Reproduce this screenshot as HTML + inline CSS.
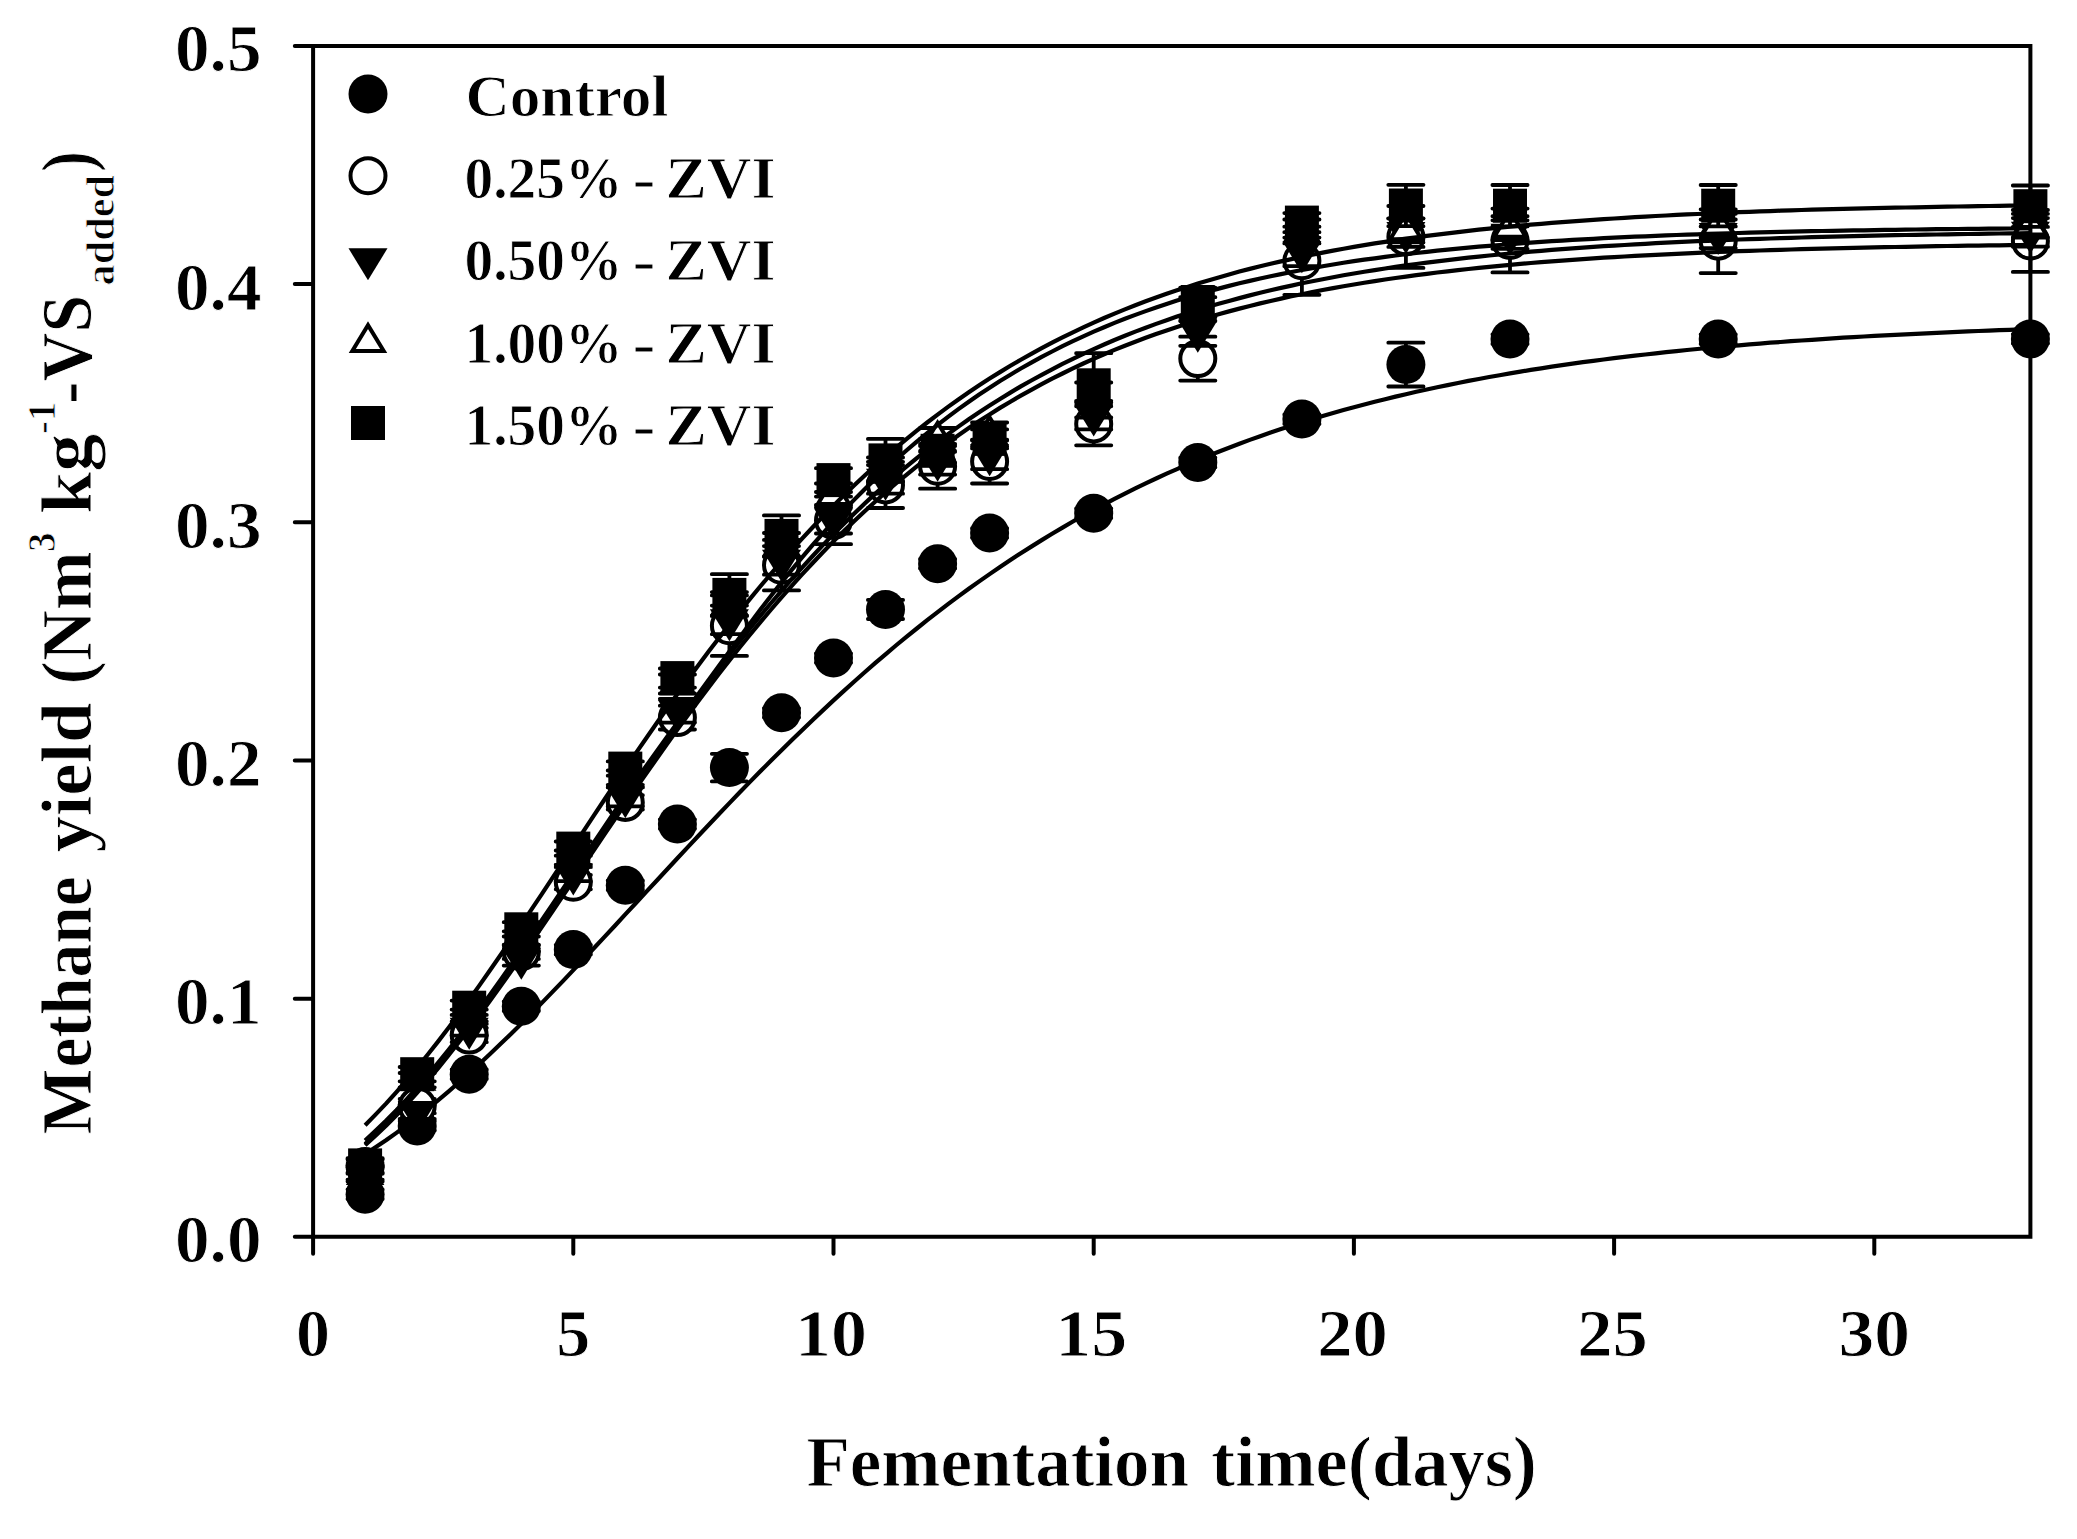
<!DOCTYPE html>
<html><head><meta charset="utf-8"><title>Methane yield</title><style>html,body{margin:0;padding:0;background:#fff}svg{display:block}</style></head><body>
<svg width="2077" height="1539" viewBox="0 0 2077 1539" font-family="'Liberation Serif', serif" font-weight="bold" fill="#000"><style>text{stroke:#fff;stroke-width:0.9px}</style><rect width="2077" height="1539" fill="#fff"/>
<path d="M365.1 1189.5V1199M347.5 1189.5H382.7M347.5 1199H382.7M417.2 1121.1V1130.6M399.6 1121.1H434.8M399.6 1130.6H434.8M469.2 1069.4V1078.9M451.6 1069.4H486.8M451.6 1078.9H486.8M521.3 1001.5V1011M503.7 1001.5H538.9M503.7 1011H538.9M573.3 944.8V954.4M555.7 944.8H590.9M555.7 954.4H590.9M625.3 880.5V890M607.7 880.5H642.9M607.7 890H642.9M677.4 819.3V828.8M659.8 819.3H695M659.8 828.8H695M729.4 753.8V781.4M711.8 753.8H747M711.8 781.4H747M781.5 708.1V717.6M763.9 708.1H799.1M763.9 717.6H799.1M833.5 653.3V662.8M815.9 653.3H851.1M815.9 662.8H851.1M885.5 599.9V619M867.9 599.9H903.1M867.9 619H903.1M937.6 559V568.5M920 559H955.2M920 568.5H955.2M989.6 528.2V537.8M972 528.2H1007.2M972 537.8H1007.2M1093.7 508.5V518M1076.1 508.5H1111.3M1076.1 518H1111.3M1197.8 457.7V467.3M1180.2 457.7H1215.4M1180.2 467.3H1215.4M1301.9 414.4V423.9M1284.3 414.4H1319.5M1284.3 423.9H1319.5M1405.9 342.7V386.5M1388.3 342.7H1423.5M1388.3 386.5H1423.5M1510 334.3V343.9M1492.4 334.3H1527.6M1492.4 343.9H1527.6M1718.2 334.3V343.9M1700.6 334.3H1735.8M1700.6 343.9H1735.8M2030.4 334.1V343.6M2012.8 334.1H2048M2012.8 343.6H2048" fill="none" stroke="#000" stroke-width="3.8" stroke-linecap="round"/>
<circle cx="365.1" cy="1194.2" r="19.5" fill="#000"/>
<circle cx="417.2" cy="1125.9" r="19.5" fill="#000"/>
<circle cx="469.2" cy="1074.2" r="19.5" fill="#000"/>
<circle cx="521.3" cy="1006.3" r="19.5" fill="#000"/>
<circle cx="573.3" cy="949.6" r="19.5" fill="#000"/>
<circle cx="625.3" cy="885.3" r="19.5" fill="#000"/>
<circle cx="677.4" cy="824.1" r="19.5" fill="#000"/>
<circle cx="729.4" cy="767.6" r="19.5" fill="#000"/>
<circle cx="781.5" cy="712.8" r="19.5" fill="#000"/>
<circle cx="833.5" cy="658" r="19.5" fill="#000"/>
<circle cx="885.5" cy="609.5" r="19.5" fill="#000"/>
<circle cx="937.6" cy="563.7" r="19.5" fill="#000"/>
<circle cx="989.6" cy="533" r="19.5" fill="#000"/>
<circle cx="1093.7" cy="513.2" r="19.5" fill="#000"/>
<circle cx="1197.8" cy="462.5" r="19.5" fill="#000"/>
<circle cx="1301.9" cy="419.1" r="19.5" fill="#000"/>
<circle cx="1405.9" cy="364.6" r="19.5" fill="#000"/>
<circle cx="1510" cy="339.1" r="19.5" fill="#000"/>
<circle cx="1718.2" cy="339.1" r="19.5" fill="#000"/>
<circle cx="2030.4" cy="338.9" r="19.5" fill="#000"/>
<path d="M365.1 1159.4V1173.7M347.5 1159.4H382.7M347.5 1173.7H382.7M417.2 1098.9V1113.2M399.6 1098.9H434.8M399.6 1113.2H434.8M469.2 1028V1042.2M451.6 1028H486.8M451.6 1042.2H486.8M521.3 944.6V958.9M503.7 944.6H538.9M503.7 958.9H538.9M573.3 875V889.3M555.7 875H590.9M555.7 889.3H590.9M625.3 795.2V809.5M607.7 795.2H642.9M607.7 809.5H642.9M677.4 705.7V729.5M659.8 705.7H695M659.8 729.5H695M729.4 595.4V655.9M711.8 595.4H747M711.8 655.9H747M781.5 539.9V590.4M763.9 539.9H799.1M763.9 590.4H799.1M833.5 496.6V544.2M815.9 496.6H851.1M815.9 544.2H851.1M885.5 461.8V508M867.9 461.8H903.1M867.9 508H903.1M937.6 443.9V488.7M920 443.9H955.2M920 488.7H955.2M989.6 439.6V483.5M972 439.6H1007.2M972 483.5H1007.2M1093.7 402.5V445.3M1076.1 402.5H1111.3M1076.1 445.3H1111.3M1197.8 336.7V380.6M1180.2 336.7H1215.4M1180.2 380.6H1215.4M1301.9 226.7V294.8M1284.3 226.7H1319.5M1284.3 294.8H1319.5M1405.9 206V267.9M1388.3 206H1423.5M1388.3 267.9H1423.5M1510 208.6V272.4M1492.4 208.6H1527.6M1492.4 272.4H1527.6M1718.2 209.3V273.1M1700.6 209.3H1735.8M1700.6 273.1H1735.8M2030.4 210V271.9M2012.8 210H2048M2012.8 271.9H2048" fill="none" stroke="#000" stroke-width="3.8" stroke-linecap="round"/>
<circle cx="365.1" cy="1166.6" r="17.5" fill="#fff" stroke="#000" stroke-width="4.0"/>
<circle cx="417.2" cy="1106.1" r="17.5" fill="#fff" stroke="#000" stroke-width="4.0"/>
<circle cx="469.2" cy="1035.1" r="17.5" fill="#fff" stroke="#000" stroke-width="4.0"/>
<circle cx="521.3" cy="951.7" r="17.5" fill="#fff" stroke="#000" stroke-width="4.0"/>
<circle cx="573.3" cy="882.2" r="17.5" fill="#fff" stroke="#000" stroke-width="4.0"/>
<circle cx="625.3" cy="802.4" r="17.5" fill="#fff" stroke="#000" stroke-width="4.0"/>
<circle cx="677.4" cy="717.6" r="17.5" fill="#fff" stroke="#000" stroke-width="4.0"/>
<circle cx="729.4" cy="625.7" r="17.5" fill="#fff" stroke="#000" stroke-width="4.0"/>
<circle cx="781.5" cy="565.2" r="17.5" fill="#fff" stroke="#000" stroke-width="4.0"/>
<circle cx="833.5" cy="520.4" r="17.5" fill="#fff" stroke="#000" stroke-width="4.0"/>
<circle cx="885.5" cy="484.9" r="17.5" fill="#fff" stroke="#000" stroke-width="4.0"/>
<circle cx="937.6" cy="466.3" r="17.5" fill="#fff" stroke="#000" stroke-width="4.0"/>
<circle cx="989.6" cy="461.5" r="17.5" fill="#fff" stroke="#000" stroke-width="4.0"/>
<circle cx="1093.7" cy="423.9" r="17.5" fill="#fff" stroke="#000" stroke-width="4.0"/>
<circle cx="1197.8" cy="358.6" r="17.5" fill="#fff" stroke="#000" stroke-width="4.0"/>
<circle cx="1301.9" cy="260.7" r="17.5" fill="#fff" stroke="#000" stroke-width="4.0"/>
<circle cx="1405.9" cy="236.9" r="17.5" fill="#fff" stroke="#000" stroke-width="4.0"/>
<circle cx="1510" cy="240.5" r="17.5" fill="#fff" stroke="#000" stroke-width="4.0"/>
<circle cx="1718.2" cy="241.2" r="17.5" fill="#fff" stroke="#000" stroke-width="4.0"/>
<circle cx="2030.4" cy="241" r="17.5" fill="#fff" stroke="#000" stroke-width="4.0"/>
<path d="M365.1 1165.4V1179.7M347.5 1165.4H382.7M347.5 1179.7H382.7M417.2 1104.7V1118.9M399.6 1104.7H434.8M399.6 1118.9H434.8M469.2 1021.3V1035.6M451.6 1021.3H486.8M451.6 1035.6H486.8M521.3 951.3V965.6M503.7 951.3H538.9M503.7 965.6H538.9M573.3 866.9V881.2M555.7 866.9H590.9M555.7 881.2H590.9M625.3 787.4V806.4M607.7 787.4H642.9M607.7 806.4H642.9M677.4 698.8V722.6M659.8 698.8H695M659.8 722.6H695M729.4 605.6V634.2M711.8 605.6H747M711.8 634.2H747M781.5 546.1V574.7M763.9 546.1H799.1M763.9 574.7H799.1M833.5 504.9V533.5M815.9 504.9H851.1M815.9 533.5H851.1M885.5 465.1V493.7M867.9 465.1H903.1M867.9 493.7H903.1M937.6 446.1V474.6M920 446.1H955.2M920 474.6H955.2M989.6 440.6V469.2M972 440.6H1007.2M972 469.2H1007.2M1093.7 400.8V429.4M1076.1 400.8H1111.3M1076.1 429.4H1111.3M1197.8 317.2V345.8M1180.2 317.2H1215.4M1180.2 345.8H1215.4M1301.9 237.6V266.2M1284.3 237.6H1319.5M1284.3 266.2H1319.5M1405.9 218.3V246.9M1388.3 218.3H1423.5M1388.3 246.9H1423.5M1510 220.3V248.8M1492.4 220.3H1527.6M1492.4 248.8H1527.6M1718.2 219.5V248.1M1700.6 219.5H1735.8M1700.6 248.1H1735.8M2030.4 218.1V246.7M2012.8 218.1H2048M2012.8 246.7H2048" fill="none" stroke="#000" stroke-width="3.8" stroke-linecap="round"/>
<path d="M345.6 1161.8H384.6L365.1 1193.8Z" fill="#000"/>
<path d="M397.7 1101.1H436.7L417.2 1133.1Z" fill="#000"/>
<path d="M449.7 1017.7H488.7L469.2 1049.7Z" fill="#000"/>
<path d="M501.8 947.7H540.8L521.3 979.7Z" fill="#000"/>
<path d="M553.8 863.4H592.8L573.3 895.4Z" fill="#000"/>
<path d="M605.8 786.2H644.8L625.3 818.2Z" fill="#000"/>
<path d="M657.9 700H696.9L677.4 732Z" fill="#000"/>
<path d="M709.9 609.2H748.9L729.4 641.2Z" fill="#000"/>
<path d="M762 549.7H801L781.5 581.7Z" fill="#000"/>
<path d="M814 508.5H853L833.5 540.5Z" fill="#000"/>
<path d="M866 468.7H905L885.5 500.7Z" fill="#000"/>
<path d="M918.1 449.7H957.1L937.6 481.7Z" fill="#000"/>
<path d="M970.1 444.2H1009.1L989.6 476.2Z" fill="#000"/>
<path d="M1074.2 404.4H1113.2L1093.7 436.4Z" fill="#000"/>
<path d="M1178.3 320.8H1217.3L1197.8 352.8Z" fill="#000"/>
<path d="M1282.4 241.2H1321.4L1301.9 273.2Z" fill="#000"/>
<path d="M1386.4 221.9H1425.4L1405.9 253.9Z" fill="#000"/>
<path d="M1490.5 223.8H1529.5L1510 255.8Z" fill="#000"/>
<path d="M1698.7 223.1H1737.7L1718.2 255.1Z" fill="#000"/>
<path d="M2010.9 221.7H2049.9L2030.4 253.7Z" fill="#000"/>
<path d="M365.1 1167.3V1181.6M347.5 1167.3H382.7M347.5 1181.6H382.7M417.2 1073V1087.3M399.6 1073H434.8M399.6 1087.3H434.8M469.2 1009.6V1023.9M451.6 1009.6H486.8M451.6 1023.9H486.8M521.3 931.3V945.5M503.7 931.3H538.9M503.7 945.5H538.9M573.3 850.5V864.8M555.7 850.5H590.9M555.7 864.8H590.9M625.3 770.5V784.8M607.7 770.5H642.9M607.7 784.8H642.9M677.4 674.5V693.5M659.8 674.5H695M659.8 693.5H695M729.4 592.1V615.9M711.8 592.1H747M711.8 615.9H747M781.5 533V556.8M763.9 533H799.1M763.9 556.8H799.1M833.5 483.5V507.3M815.9 483.5H851.1M815.9 507.3H851.1M885.5 457.5V481.3M867.9 457.5H903.1M867.9 481.3H903.1M937.6 428V451.8M920 428H955.2M920 451.8H955.2M989.6 422.5V446.3M972 422.5H1007.2M972 446.3H1007.2M1093.7 382.5V406.3M1076.1 382.5H1111.3M1076.1 406.3H1111.3M1197.8 297.2V321M1180.2 297.2H1215.4M1180.2 321H1215.4M1301.9 219.5V243.4M1284.3 219.5H1319.5M1284.3 243.4H1319.5M1405.9 218.6V242.4M1388.3 218.6H1423.5M1388.3 242.4H1423.5M1510 216.2V240M1492.4 216.2H1527.6M1492.4 240H1527.6M1718.2 213.8V237.6M1700.6 213.8H1735.8M1700.6 237.6H1735.8M2030.4 213.8V237.6M2012.8 213.8H2048M2012.8 237.6H2048" fill="none" stroke="#000" stroke-width="3.8" stroke-linecap="round"/>
<path d="M349.4 1183.1H380.8L365.1 1157.3Z" fill="#fff" stroke="#000" stroke-width="4.0" stroke-linejoin="miter"/>
<path d="M401.5 1088.8H432.9L417.2 1063Z" fill="#fff" stroke="#000" stroke-width="4.0" stroke-linejoin="miter"/>
<path d="M453.5 1025.5H484.9L469.2 999.7Z" fill="#fff" stroke="#000" stroke-width="4.0" stroke-linejoin="miter"/>
<path d="M505.6 947.1H537L521.3 921.3Z" fill="#fff" stroke="#000" stroke-width="4.0" stroke-linejoin="miter"/>
<path d="M557.6 866.4H589L573.3 840.6Z" fill="#fff" stroke="#000" stroke-width="4.0" stroke-linejoin="miter"/>
<path d="M609.6 786.3H641L625.3 760.5Z" fill="#fff" stroke="#000" stroke-width="4.0" stroke-linejoin="miter"/>
<path d="M661.7 692.7H693.1L677.4 666.9Z" fill="#fff" stroke="#000" stroke-width="4.0" stroke-linejoin="miter"/>
<path d="M713.7 612.7H745.1L729.4 586.9Z" fill="#fff" stroke="#000" stroke-width="4.0" stroke-linejoin="miter"/>
<path d="M765.8 553.6H797.2L781.5 527.8Z" fill="#fff" stroke="#000" stroke-width="4.0" stroke-linejoin="miter"/>
<path d="M817.8 504.1H849.2L833.5 478.3Z" fill="#fff" stroke="#000" stroke-width="4.0" stroke-linejoin="miter"/>
<path d="M869.8 478.1H901.2L885.5 452.3Z" fill="#fff" stroke="#000" stroke-width="4.0" stroke-linejoin="miter"/>
<path d="M921.9 448.6H953.3L937.6 422.8Z" fill="#fff" stroke="#000" stroke-width="4.0" stroke-linejoin="miter"/>
<path d="M973.9 443.1H1005.3L989.6 417.3Z" fill="#fff" stroke="#000" stroke-width="4.0" stroke-linejoin="miter"/>
<path d="M1078 403.1H1109.4L1093.7 377.3Z" fill="#fff" stroke="#000" stroke-width="4.0" stroke-linejoin="miter"/>
<path d="M1182.1 317.8H1213.5L1197.8 292Z" fill="#fff" stroke="#000" stroke-width="4.0" stroke-linejoin="miter"/>
<path d="M1286.2 240.2H1317.6L1301.9 214.4Z" fill="#fff" stroke="#000" stroke-width="4.0" stroke-linejoin="miter"/>
<path d="M1390.2 239.2H1421.6L1405.9 213.4Z" fill="#fff" stroke="#000" stroke-width="4.0" stroke-linejoin="miter"/>
<path d="M1494.3 236.8H1525.7L1510 211Z" fill="#fff" stroke="#000" stroke-width="4.0" stroke-linejoin="miter"/>
<path d="M1702.5 234.4H1733.9L1718.2 208.6Z" fill="#fff" stroke="#000" stroke-width="4.0" stroke-linejoin="miter"/>
<path d="M2014.7 234.4H2046.1L2030.4 208.6Z" fill="#fff" stroke="#000" stroke-width="4.0" stroke-linejoin="miter"/>
<path d="M365.1 1158.2V1172.5M347.5 1158.2H382.7M347.5 1172.5H382.7M417.2 1067V1081.3M399.6 1067H434.8M399.6 1081.3H434.8M469.2 1000.6V1014.9M451.6 1000.6H486.8M451.6 1014.9H486.8M521.3 922.2V936.5M503.7 922.2H538.9M503.7 936.5H538.9M573.3 841.5V855.7M555.7 841.5H590.9M555.7 855.7H590.9M625.3 761.4V775.7M607.7 761.4H642.9M607.7 775.7H642.9M677.4 668.5V687.6M659.8 668.5H695M659.8 687.6H695M729.4 574.2V615.7M711.8 574.2H747M711.8 615.7H747M781.5 515.4V556.3M763.9 515.4H799.1M763.9 556.3H799.1M833.5 468.2V492M815.9 468.2H851.1M815.9 492H851.1M885.5 438.9V481.8M867.9 438.9H903.1M867.9 481.8H903.1M937.6 438.9V462.7M920 438.9H955.2M920 462.7H955.2M989.6 429.4V448.4M972 429.4H1007.2M972 448.4H1007.2M1093.7 353.2V417.5M1076.1 353.2H1111.3M1076.1 417.5H1111.3M1197.8 287.7V316.2M1180.2 287.7H1215.4M1180.2 316.2H1215.4M1301.9 213.1V232.2M1284.3 213.1H1319.5M1284.3 232.2H1319.5M1405.9 184.8V226.2M1388.3 184.8H1423.5M1388.3 226.2H1423.5M1510 185V226.4M1492.4 185H1527.6M1492.4 226.4H1527.6M1718.2 185V226.4M1700.6 185H1735.8M1700.6 226.4H1735.8M2030.4 185.5V226.9M2012.8 185.5H2048M2012.8 226.9H2048" fill="none" stroke="#000" stroke-width="3.8" stroke-linecap="round"/>
<rect x="348.1" y="1148.4" width="34" height="34" fill="#000"/>
<rect x="400.2" y="1057.2" width="34" height="34" fill="#000"/>
<rect x="452.2" y="990.7" width="34" height="34" fill="#000"/>
<rect x="504.3" y="912.3" width="34" height="34" fill="#000"/>
<rect x="556.3" y="831.6" width="34" height="34" fill="#000"/>
<rect x="608.3" y="751.6" width="34" height="34" fill="#000"/>
<rect x="660.4" y="661.1" width="34" height="34" fill="#000"/>
<rect x="712.4" y="577.9" width="34" height="34" fill="#000"/>
<rect x="764.5" y="518.9" width="34" height="34" fill="#000"/>
<rect x="816.5" y="463.1" width="34" height="34" fill="#000"/>
<rect x="868.5" y="443.4" width="34" height="34" fill="#000"/>
<rect x="920.6" y="433.8" width="34" height="34" fill="#000"/>
<rect x="972.6" y="421.9" width="34" height="34" fill="#000"/>
<rect x="1076.7" y="368.3" width="34" height="34" fill="#000"/>
<rect x="1180.8" y="285" width="34" height="34" fill="#000"/>
<rect x="1284.9" y="205.6" width="34" height="34" fill="#000"/>
<rect x="1388.9" y="188.5" width="34" height="34" fill="#000"/>
<rect x="1493" y="188.7" width="34" height="34" fill="#000"/>
<rect x="1701.2" y="188.7" width="34" height="34" fill="#000"/>
<rect x="2013.4" y="189.2" width="34" height="34" fill="#000"/>
<polyline points="365.1,1154.1 375.5,1147.3 386,1140.3 396.4,1132.9 406.8,1125.2 417.2,1117.2 427.6,1108.9 438,1100.4 448.4,1091.6 458.8,1082.5 469.2,1073.3 479.6,1063.7 490,1054 500.4,1044.1 510.9,1034 521.3,1023.7 531.7,1013.2 542.1,1002.6 552.5,991.9 562.9,981.1 573.3,970.1 583.7,959.1 594.1,948 604.5,936.9 614.9,925.7 625.3,914.4 635.7,903.2 646.2,891.9 656.6,880.7 667,869.5 677.4,858.3 687.8,847.1 698.2,836 708.6,825 719,814 729.4,803.1 739.8,792.3 750.2,781.6 760.6,771.1 771.1,760.6 781.5,750.2 791.9,740 802.3,729.9 812.7,719.9 823.1,710.1 833.5,700.4 843.9,690.9 854.3,681.5 864.7,672.3 875.1,663.2 885.5,654.3 895.9,645.5 906.4,636.9 916.8,628.5 927.2,620.2 937.6,612.1 948,604.2 958.4,596.4 968.8,588.8 979.2,581.4 989.6,574.1 1000,567 1010.4,560 1020.8,553.2 1031.3,546.6 1041.7,540.1 1052.1,533.7 1062.5,527.6 1072.9,521.5 1083.3,515.7 1093.7,509.9 1104.1,504.3 1114.5,498.9 1124.9,493.6 1135.3,488.4 1145.7,483.4 1156.1,478.5 1166.6,473.7 1177,469.1 1187.4,464.5 1197.8,460.1 1208.2,455.9 1218.6,451.7 1229,447.7 1239.4,443.7 1249.8,439.9 1260.2,436.2 1270.6,432.6 1281,429.1 1291.5,425.7 1301.9,422.4 1312.3,419.2 1322.7,416 1333.1,413 1343.5,410.1 1353.9,407.2 1364.3,404.5 1374.7,401.8 1385.1,399.2 1395.5,396.6 1405.9,394.2 1416.3,391.8 1426.8,389.5 1437.2,387.3 1447.6,385.1 1458,383 1468.4,380.9 1478.8,379 1489.2,377 1499.6,375.2 1510,373.4 1520.4,371.6 1530.8,369.9 1541.2,368.3 1551.7,366.7 1562.1,365.2 1572.5,363.7 1582.9,362.2 1593.3,360.8 1603.7,359.5 1614.1,358.2 1624.5,356.9 1634.9,355.7 1645.3,354.5 1655.7,353.3 1666.1,352.2 1676.5,351.1 1687,350 1697.4,349 1707.8,348 1718.2,347.1 1728.6,346.2 1739,345.3 1749.4,344.4 1759.8,343.6 1770.2,342.7 1780.6,342 1791,341.2 1801.4,340.5 1811.9,339.8 1822.3,339.1 1832.7,338.4 1843.1,337.7 1853.5,337.1 1863.9,336.5 1874.3,335.9 1884.7,335.4 1895.1,334.8 1905.5,334.3 1915.9,333.8 1926.3,333.3 1936.7,332.8 1947.2,332.3 1957.6,331.9 1968,331.4 1978.4,331 1988.8,330.6 1999.2,330.2 2009.6,329.8 2020,329.4 2030.4,329.1" fill="none" stroke="#000" stroke-width="4.2" stroke-linejoin="round"/>
<polyline points="365.1,1145.2 375.5,1135.7 386,1125.7 396.4,1115.2 406.8,1104.2 417.2,1092.7 427.6,1080.7 438,1068.3 448.4,1055.5 458.8,1042.3 469.2,1028.8 479.6,1014.9 490,1000.7 500.4,986.3 510.9,971.6 521.3,956.7 531.7,941.7 542.1,926.5 552.5,911.2 562.9,895.9 573.3,880.5 583.7,865.1 594.1,849.7 604.5,834.3 614.9,819 625.3,803.7 635.7,788.6 646.2,773.6 656.6,758.8 667,744.1 677.4,729.6 687.8,715.3 698.2,701.2 708.6,687.4 719,673.7 729.4,660.4 739.8,647.2 750.2,634.4 760.6,621.8 771.1,609.5 781.5,597.4 791.9,585.6 802.3,574.2 812.7,563 823.1,552 833.5,541.4 843.9,531.1 854.3,521 864.7,511.2 875.1,501.7 885.5,492.5 895.9,483.5 906.4,474.8 916.8,466.4 927.2,458.2 937.6,450.3 948,442.7 958.4,435.2 968.8,428.1 979.2,421.1 989.6,414.4 1000,407.9 1010.4,401.7 1020.8,395.6 1031.3,389.8 1041.7,384.2 1052.1,378.7 1062.5,373.5 1072.9,368.4 1083.3,363.5 1093.7,358.8 1104.1,354.3 1114.5,349.9 1124.9,345.7 1135.3,341.7 1145.7,337.8 1156.1,334 1166.6,330.4 1177,326.9 1187.4,323.5 1197.8,320.3 1208.2,317.2 1218.6,314.2 1229,311.4 1239.4,308.6 1249.8,306 1260.2,303.4 1270.6,301 1281,298.6 1291.5,296.3 1301.9,294.2 1312.3,292.1 1322.7,290 1333.1,288.1 1343.5,286.3 1353.9,284.5 1364.3,282.8 1374.7,281.1 1385.1,279.5 1395.5,278 1405.9,276.6 1416.3,275.2 1426.8,273.8 1437.2,272.5 1447.6,271.3 1458,270.1 1468.4,269 1478.8,267.9 1489.2,266.8 1499.6,265.8 1510,264.9 1520.4,263.9 1530.8,263 1541.2,262.2 1551.7,261.4 1562.1,260.6 1572.5,259.8 1582.9,259.1 1593.3,258.4 1603.7,257.7 1614.1,257.1 1624.5,256.5 1634.9,255.9 1645.3,255.3 1655.7,254.8 1666.1,254.3 1676.5,253.8 1687,253.3 1697.4,252.8 1707.8,252.4 1718.2,252 1728.6,251.6 1739,251.2 1749.4,250.8 1759.8,250.5 1770.2,250.1 1780.6,249.8 1791,249.5 1801.4,249.2 1811.9,248.9 1822.3,248.6 1832.7,248.3 1843.1,248.1 1853.5,247.8 1863.9,247.6 1874.3,247.4 1884.7,247.2 1895.1,247 1905.5,246.8 1915.9,246.6 1926.3,246.4 1936.7,246.2 1947.2,246 1957.6,245.9 1968,245.7 1978.4,245.6 1988.8,245.4 1999.2,245.3 2009.6,245.2 2020,245 2030.4,244.9" fill="none" stroke="#000" stroke-width="4.2" stroke-linejoin="round"/>
<polyline points="365.1,1144.1 375.5,1134.5 386,1124.4 396.4,1113.8 406.8,1102.7 417.2,1091.1 427.6,1079 438,1066.5 448.4,1053.5 458.8,1040.2 469.2,1026.6 479.6,1012.5 490,998.2 500.4,983.7 510.9,968.9 521.3,953.9 531.7,938.7 542.1,923.4 552.5,907.9 562.9,892.4 573.3,876.9 583.7,861.3 594.1,845.7 604.5,830.2 614.9,814.8 625.3,799.4 635.7,784.1 646.2,769 656.6,754 667,739.1 677.4,724.5 687.8,710 698.2,695.8 708.6,681.8 719,668 729.4,654.5 739.8,641.2 750.2,628.2 760.6,615.5 771.1,603 781.5,590.8 791.9,578.9 802.3,567.3 812.7,556 823.1,544.9 833.5,534.1 843.9,523.7 854.3,513.5 864.7,503.6 875.1,493.9 885.5,484.6 895.9,475.5 906.4,466.7 916.8,458.2 927.2,449.9 937.6,441.9 948,434.1 958.4,426.6 968.8,419.3 979.2,412.3 989.6,405.5 1000,398.9 1010.4,392.6 1020.8,386.4 1031.3,380.5 1041.7,374.8 1052.1,369.3 1062.5,363.9 1072.9,358.8 1083.3,353.9 1093.7,349.1 1104.1,344.5 1114.5,340 1124.9,335.8 1135.3,331.6 1145.7,327.7 1156.1,323.9 1166.6,320.2 1177,316.6 1187.4,313.2 1197.8,310 1208.2,306.8 1218.6,303.8 1229,300.9 1239.4,298.1 1249.8,295.4 1260.2,292.8 1270.6,290.3 1281,287.9 1291.5,285.6 1301.9,283.3 1312.3,281.2 1322.7,279.2 1333.1,277.2 1343.5,275.3 1353.9,273.5 1364.3,271.8 1374.7,270.1 1385.1,268.5 1395.5,266.9 1405.9,265.4 1416.3,264 1426.8,262.7 1437.2,261.3 1447.6,260.1 1458,258.9 1468.4,257.7 1478.8,256.6 1489.2,255.5 1499.6,254.5 1510,253.5 1520.4,252.6 1530.8,251.7 1541.2,250.8 1551.7,249.9 1562.1,249.1 1572.5,248.4 1582.9,247.6 1593.3,246.9 1603.7,246.2 1614.1,245.6 1624.5,245 1634.9,244.4 1645.3,243.8 1655.7,243.2 1666.1,242.7 1676.5,242.2 1687,241.7 1697.4,241.2 1707.8,240.8 1718.2,240.4 1728.6,239.9 1739,239.5 1749.4,239.2 1759.8,238.8 1770.2,238.5 1780.6,238.1 1791,237.8 1801.4,237.5 1811.9,237.2 1822.3,236.9 1832.7,236.6 1843.1,236.4 1853.5,236.1 1863.9,235.9 1874.3,235.7 1884.7,235.4 1895.1,235.2 1905.5,235 1915.9,234.8 1926.3,234.6 1936.7,234.5 1947.2,234.3 1957.6,234.1 1968,234 1978.4,233.8 1988.8,233.7 1999.2,233.5 2009.6,233.4 2020,233.3 2030.4,233.1" fill="none" stroke="#000" stroke-width="4.2" stroke-linejoin="round"/>
<polyline points="365.1,1140.5 375.5,1130.9 386,1120.8 396.4,1110.2 406.8,1099.1 417.2,1087.5 427.6,1075.4 438,1062.9 448.4,1050 458.8,1036.7 469.2,1023 479.6,1009 490,994.7 500.4,980.1 510.9,965.3 521.3,950.3 531.7,935.1 542.1,919.8 552.5,904.4 562.9,888.9 573.3,873.3 583.7,857.7 594.1,842.2 604.5,826.6 614.9,811.2 625.3,795.8 635.7,780.7 646.2,766 656.6,751.5 667,737.1 677.4,722.8 687.8,708.6 698.2,694.3 708.6,680 719,665.7 729.4,651.4 739.8,637.2 750.2,623.2 760.6,609.3 771.1,595.7 781.5,582.4 791.9,569.6 802.3,557.1 812.7,544.9 823.1,533.1 833.5,521.6 843.9,510.4 854.3,499.6 864.7,489.2 875.1,479 885.5,469.2 895.9,459.7 906.4,450.5 916.8,441.6 927.2,433.1 937.6,424.8 948,416.8 958.4,409.1 968.8,401.7 979.2,394.6 989.6,387.7 1000,381 1010.4,374.7 1020.8,368.5 1031.3,362.6 1041.7,356.9 1052.1,351.5 1062.5,346.2 1072.9,341.2 1083.3,336.3 1093.7,331.7 1104.1,327.2 1114.5,322.9 1124.9,318.8 1135.3,314.9 1145.7,311.1 1156.1,307.5 1166.6,304 1177,300.6 1187.4,297.4 1197.8,294.4 1208.2,291.4 1218.6,288.6 1229,285.9 1239.4,283.3 1249.8,280.9 1260.2,278.5 1270.6,276.2 1281,274.1 1291.5,272 1301.9,270 1312.3,268.1 1322.7,266.3 1333.1,264.5 1343.5,262.8 1353.9,261.2 1364.3,259.7 1374.7,258.3 1385.1,256.9 1395.5,255.5 1405.9,254.2 1416.3,253 1426.8,251.8 1437.2,250.7 1447.6,249.6 1458,248.6 1468.4,247.6 1478.8,246.7 1489.2,245.8 1499.6,245 1510,244.1 1520.4,243.4 1530.8,242.6 1541.2,241.9 1551.7,241.2 1562.1,240.6 1572.5,239.9 1582.9,239.3 1593.3,238.8 1603.7,238.2 1614.1,237.7 1624.5,237.2 1634.9,236.7 1645.3,236.3 1655.7,235.8 1666.1,235.4 1676.5,235 1687,234.6 1697.4,234.3 1707.8,233.9 1718.2,233.6 1728.6,233.3 1739,233 1749.4,232.7 1759.8,232.4 1770.2,232.2 1780.6,231.9 1791,231.7 1801.4,231.4 1811.9,231.2 1822.3,231 1832.7,230.8 1843.1,230.6 1853.5,230.4 1863.9,230.3 1874.3,230.1 1884.7,229.9 1895.1,229.8 1905.5,229.6 1915.9,229.5 1926.3,229.4 1936.7,229.2 1947.2,229.1 1957.6,229 1968,228.9 1978.4,228.8 1988.8,228.7 1999.2,228.6 2009.6,228.5 2020,228.4 2030.4,228.3" fill="none" stroke="#000" stroke-width="4.2" stroke-linejoin="round"/>
<polyline points="365.1,1125.2 375.5,1114.6 386,1103.6 396.4,1092.1 406.8,1080.1 417.2,1067.7 427.6,1054.8 438,1041.6 448.4,1027.9 458.8,1014 469.2,999.7 479.6,985.1 490,970.3 500.4,955.3 510.9,940 521.3,924.7 531.7,909.2 542.1,893.6 552.5,877.9 562.9,862.2 573.3,846.5 583.7,830.8 594.1,815.1 604.5,799.5 614.9,784 625.3,768.6 635.7,753.4 646.2,738.2 656.6,723.3 667,708.5 677.4,694 687.8,679.6 698.2,665.5 708.6,651.6 719,638 729.4,624.6 739.8,611.4 750.2,598.6 760.6,586 771.1,573.7 781.5,561.6 791.9,549.9 802.3,538.4 812.7,527.2 823.1,516.3 833.5,505.7 843.9,495.3 854.3,485.3 864.7,475.5 875.1,466 885.5,456.8 895.9,447.8 906.4,439.1 916.8,430.7 927.2,422.5 937.6,414.6 948,406.9 958.4,399.5 968.8,392.3 979.2,385.3 989.6,378.6 1000,372.1 1010.4,365.8 1020.8,359.7 1031.3,353.8 1041.7,348.2 1052.1,342.7 1062.5,337.4 1072.9,332.3 1083.3,327.4 1093.7,322.6 1104.1,318 1114.5,313.6 1124.9,309.4 1135.3,305.3 1145.7,301.3 1156.1,297.5 1166.6,293.8 1177,290.3 1187.4,286.9 1197.8,283.6 1208.2,280.4 1218.6,277.4 1229,274.5 1239.4,271.6 1249.8,268.9 1260.2,266.3 1270.6,263.8 1281,261.4 1291.5,259.1 1301.9,256.8 1312.3,254.7 1322.7,252.6 1333.1,250.6 1343.5,248.7 1353.9,246.9 1364.3,245.1 1374.7,243.4 1385.1,241.8 1395.5,240.2 1405.9,238.7 1416.3,237.3 1426.8,235.9 1437.2,234.6 1447.6,233.3 1458,232.1 1468.4,230.9 1478.8,229.7 1489.2,228.6 1499.6,227.6 1510,226.6 1520.4,225.6 1530.8,224.7 1541.2,223.8 1551.7,222.9 1562.1,222.1 1572.5,221.3 1582.9,220.6 1593.3,219.8 1603.7,219.1 1614.1,218.5 1624.5,217.8 1634.9,217.2 1645.3,216.6 1655.7,216 1666.1,215.5 1676.5,214.9 1687,214.4 1697.4,214 1707.8,213.5 1718.2,213 1728.6,212.6 1739,212.2 1749.4,211.8 1759.8,211.4 1770.2,211.1 1780.6,210.7 1791,210.4 1801.4,210 1811.9,209.7 1822.3,209.4 1832.7,209.2 1843.1,208.9 1853.5,208.6 1863.9,208.4 1874.3,208.1 1884.7,207.9 1895.1,207.7 1905.5,207.5 1915.9,207.3 1926.3,207.1 1936.7,206.9 1947.2,206.7 1957.6,206.5 1968,206.3 1978.4,206.2 1988.8,206 1999.2,205.9 2009.6,205.7 2020,205.6 2030.4,205.5" fill="none" stroke="#000" stroke-width="4.2" stroke-linejoin="round"/>
<path d="M294.8 45.9H2030.4V1236.8H294.8M313.1 45.9V1253.8M294.8 998.7H313.1M294.8 760.5H313.1M294.8 522.3H313.1M294.8 284.1H313.1M573.3 1236.8V1253.8M833.5 1236.8V1253.8M1093.7 1236.8V1253.8M1353.9 1236.8V1253.8M1614.1 1236.8V1253.8M1874.3 1236.8V1253.8" fill="none" stroke="#000" stroke-width="4.0" stroke-linecap="round" stroke-linejoin="miter"/>
<text x="261.5" y="1262.2" font-size="68" text-anchor="end" textLength="86.5" lengthAdjust="spacingAndGlyphs">0.0</text>
<text x="261.5" y="1024.1" font-size="68" text-anchor="end" textLength="86.5" lengthAdjust="spacingAndGlyphs">0.1</text>
<text x="261.5" y="785.9" font-size="68" text-anchor="end" textLength="86.5" lengthAdjust="spacingAndGlyphs">0.2</text>
<text x="261.5" y="547.7" font-size="68" text-anchor="end" textLength="86.5" lengthAdjust="spacingAndGlyphs">0.3</text>
<text x="261.5" y="309.5" font-size="68" text-anchor="end" textLength="86.5" lengthAdjust="spacingAndGlyphs">0.4</text>
<text x="261.5" y="71.3" font-size="68" text-anchor="end" textLength="86.5" lengthAdjust="spacingAndGlyphs">0.5</text>
<text x="313.1" y="1355.6" font-size="68" text-anchor="middle" textLength="34" lengthAdjust="spacingAndGlyphs">0</text>
<text x="573.3" y="1355.6" font-size="68" text-anchor="middle" textLength="34" lengthAdjust="spacingAndGlyphs">5</text>
<text x="831" y="1355.6" font-size="68" text-anchor="middle" textLength="72" lengthAdjust="spacingAndGlyphs">10</text>
<text x="1091.2" y="1355.6" font-size="68" text-anchor="middle" textLength="72" lengthAdjust="spacingAndGlyphs">15</text>
<text x="1352.4" y="1355.6" font-size="68" text-anchor="middle" textLength="70.5" lengthAdjust="spacingAndGlyphs">20</text>
<text x="1612.6" y="1355.6" font-size="68" text-anchor="middle" textLength="70.5" lengthAdjust="spacingAndGlyphs">25</text>
<text x="1874.3" y="1355.6" font-size="68" text-anchor="middle" textLength="71.5" lengthAdjust="spacingAndGlyphs">30</text>
<text y="1486.3" font-size="71.5"><tspan x="806.5" textLength="382.5" lengthAdjust="spacingAndGlyphs">Fementation</tspan> <tspan x="1211" textLength="326" lengthAdjust="spacingAndGlyphs">time(days)</tspan></text>
<text transform="translate(91.3,1131.9) rotate(-90)"><tspan x="-2.5" y="0" font-size="71.5" textLength="66" lengthAdjust="spacingAndGlyphs">M</tspan><tspan x="64.5" y="0" font-size="71.5" textLength="191" lengthAdjust="spacingAndGlyphs">ethane</tspan> <tspan x="279.5" y="0" font-size="71.5" textLength="150" lengthAdjust="spacingAndGlyphs">yield</tspan> <tspan x="447.5" y="0" font-size="71.5" textLength="133" lengthAdjust="spacingAndGlyphs">(Nm</tspan><tspan x="580" y="-36" font-size="40" textLength="19.5" lengthAdjust="spacingAndGlyphs">3</tspan> <tspan x="618" y="0" font-size="71.5" textLength="80" lengthAdjust="spacingAndGlyphs">kg</tspan><tspan x="698" y="-36" font-size="40" textLength="32" lengthAdjust="spacingAndGlyphs">-1</tspan><tspan x="728" y="0" font-size="71.5" textLength="109" lengthAdjust="spacingAndGlyphs">-VS</tspan><tspan x="846.5" y="23" font-size="41" textLength="110.5" lengthAdjust="spacingAndGlyphs">added</tspan><tspan x="960" y="0" font-size="71.5" textLength="21" lengthAdjust="spacingAndGlyphs">)</tspan></text>
<circle cx="368" cy="94" r="19.5" fill="#000"/>
<text x="465.5" y="115.8" font-size="58.5" textLength="203" lengthAdjust="spacingAndGlyphs">Control</text>
<circle cx="368" cy="175.7" r="17.5" fill="#fff" stroke="#000" stroke-width="4.0"/>
<text y="198.1" font-size="58.5"><tspan x="464.5" textLength="158" lengthAdjust="spacingAndGlyphs">0.25%</tspan> <tspan x="632.5" textLength="23" lengthAdjust="spacingAndGlyphs">-</tspan> <tspan x="665.5" textLength="110" lengthAdjust="spacingAndGlyphs">ZVI</tspan></text>
<path d="M348.5 248.3H387.5L368 280.3Z" fill="#000"/>
<text y="280.4" font-size="58.5"><tspan x="464.5" textLength="158" lengthAdjust="spacingAndGlyphs">0.50%</tspan> <tspan x="632.5" textLength="23" lengthAdjust="spacingAndGlyphs">-</tspan> <tspan x="665.5" textLength="110" lengthAdjust="spacingAndGlyphs">ZVI</tspan></text>
<path d="M352.3 351H383.7L368 325.2Z" fill="#fff" stroke="#000" stroke-width="4.0" stroke-linejoin="miter"/>
<text y="362.7" font-size="58.5"><tspan x="464.5" textLength="158" lengthAdjust="spacingAndGlyphs">1.00%</tspan> <tspan x="632.5" textLength="23" lengthAdjust="spacingAndGlyphs">-</tspan> <tspan x="665.5" textLength="110" lengthAdjust="spacingAndGlyphs">ZVI</tspan></text>
<rect x="351" y="406" width="34" height="34" fill="#000"/>
<text y="445" font-size="58.5"><tspan x="464.5" textLength="158" lengthAdjust="spacingAndGlyphs">1.50%</tspan> <tspan x="632.5" textLength="23" lengthAdjust="spacingAndGlyphs">-</tspan> <tspan x="665.5" textLength="110" lengthAdjust="spacingAndGlyphs">ZVI</tspan></text></svg>
</body></html>
